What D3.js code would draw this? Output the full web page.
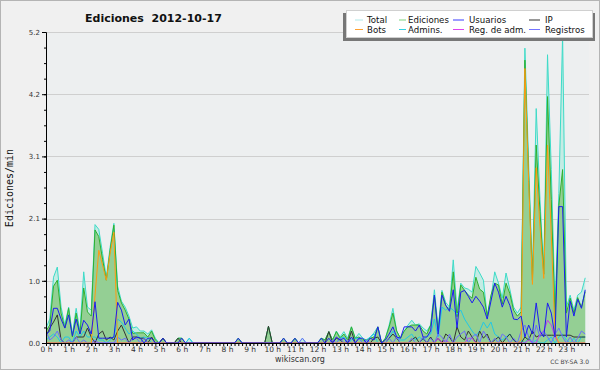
<!DOCTYPE html>
<html>
<head>
<meta charset="utf-8">
<script src="https://cdn.jsdelivr.net/npm/d3@7"></script>
<style>
	html, body { margin: 0; padding: 0; background: #f0f0f0; }
	svg { display: block; font-family: "DejaVu Sans", sans-serif; }
</style>
</head>
<body>
<svg id="chart"></svg>
<script>
// valores cada 10 minutos (144 puntos = 24 h), ediciones/min
var total = [
	0.25,0.4,1.1,1.27,0.6,0.3,  0.6,0.15,0.58,0.2,1.19,0.6,
	0.55,1.98,1.9,1.5,1.1,1.6,  2.0,0.95,0.7,0.6,0.45,0.25,
	0.27,0.2,0.2,0.15,0.22,0.08,  0,0.08,0,0,0,0.08,
	0.08,0,0.08,0,0,0,  0,0,0,0,0,0,
	0,0,0,0.08,0,0,  0,0,0,0,0,0.28,
	0,0,0,0.08,0,0,  0.08,0,0.08,0,0,0,
	0,0.08,0.05,0.19,0.05,0.2,  0.1,0.19,0.08,0.27,0.08,0.16,
	0.08,0.05,0.1,0.17,0.27,0,  0.08,0.3,0.58,0.2,0.08,0.2,
	0.3,0.38,0.3,0.32,0.25,0.2,  0.3,0.89,0.25,0.88,0.68,0.6,
	1.39,0.55,1.0,0.92,0.9,0.85,  1.28,1.17,1.05,0.45,0.75,1.19,
	1.0,0.75,1.17,0.9,0.6,0.5,  0.6,4.93,3.0,1.15,3.92,2.4,
	1.2,4.82,2.9,0.6,2.5,5.15,  0.6,0.8,0.55,0.8,0.85,1.09
];
var ediciones = [
	0.2,0.3,0.95,1.05,0.5,0.25,  0.58,0.1,0.5,0.15,0.92,0.52,
	0.45,1.89,1.78,1.4,1.05,1.55,  1.97,0.88,0.67,0.55,0.4,0.16,
	0.17,0.17,0.17,0.1,0.2,0.05,  0,0.08,0,0,0,0.08,
	0.08,0,0,0,0,0,  0,0,0,0,0,0,
	0,0,0,0.08,0,0,  0,0,0,0,0,0.28,
	0,0,0,0.08,0,0,  0.08,0,0,0,0,0,
	0,0.08,0.05,0.19,0.05,0.19,  0.08,0.15,0.05,0.27,0.08,0.1,
	0.05,0.05,0.08,0.1,0.27,0,  0.08,0.27,0.5,0.2,0.08,0.2,
	0.27,0.3,0.3,0.3,0.2,0.15,  0.3,0.8,0.2,0.85,0.63,0.55,
	1.19,0.44,0.97,0.88,0.8,0.75,  1.1,0.9,0.85,0.45,0.8,1.0,
	0.97,0.65,1.0,0.83,0.55,0.45,  0.52,4.73,2.8,1.05,3.31,2.2,
	1.15,4.12,2.4,0.4,2.3,2.9,  0.5,0.75,0.5,0.76,0.6,0.86
];
var usuarios = [
	0.15,0.2,0.58,0.58,0.4,0.25,  0.47,0.12,0.4,0.15,0.38,0.3,
	0.15,0.69,0.08,0.08,0.08,0.08,  0.1,0.68,0.55,0.3,0.4,0.05,
	0.1,0.08,0,0.08,0.08,0,  0,0.08,0,0,0,0,
	0.08,0,0,0,0,0,  0,0,0,0,0,0,
	0,0,0,0.08,0,0,  0,0,0,0,0,0,
	0,0,0,0.08,0,0,  0.08,0,0,0,0,0,
	0,0.08,0,0.08,0,0.1,  0.05,0.08,0,0.1,0,0.08,
	0.08,0,0.08,0.05,0.27,0,  0.05,0.15,0.27,0.1,0.08,0.27,
	0.27,0.27,0.2,0.3,0.1,0.1,  0.2,0.8,0.15,0.8,0.63,0.53,
	0.89,0.25,0.85,0.88,0.78,0.67,  0.78,0.7,0.6,0.4,0.7,1.0,
	0.85,0.6,0.78,0.63,0.4,0.39,  0.45,0.1,0.3,0.15,0.67,0.2,
	0.1,0.67,0.5,0.1,2.28,2.28,  0.1,0.7,0.45,0.73,0.58,0.89
];
var ip = [
	0.1,0.25,0.35,0.47,0.05,0,  0,0,0.1,0.1,0.1,0.25,
	0.1,0,0.15,0.2,0.05,0.1,  0.05,0.2,0.3,0.15,0,0.1,
	0.1,0.08,0.08,0,0.1,0,  0,0.08,0,0,0,0.08,
	0,0,0,0,0,0,  0,0,0,0,0,0,
	0,0,0,0,0,0,  0,0,0,0,0,0.28,
	0,0,0,0,0,0,  0,0,0,0,0,0,
	0,0,0,0.19,0,0.08,  0.05,0,0,0.2,0,0,
	0,0,0,0.08,0.1,0,  0,0.08,0.15,0.08,0,0,
	0,0.05,0.1,0,0.08,0,  0.1,0,0.08,0,0.15,0.1,
	0,0.27,0.1,0.05,0.2,0.1,  0,0.2,0.08,0.15,0,0.05,
	0.1,0,0.08,0.15,0.05,0,  0,0.1,0.05,0.2,0.1,0.13,
	0.13,0.13,0.13,0.13,0.13,0.13,  0.13,0.13,0.1,0.1,0.1,0.1
];
var bots = [
	0,0,0,0,0,0,  0,0,0,0,0,0,
	0,0.8,1.55,1.3,1.05,1.5,  1.85,0,0,0,0,0,
	0,0,0,0,0,0,  0,0,0,0,0,0,
	0,0,0,0,0,0,  0,0,0,0,0,0,
	0,0,0,0,0,0,  0,0,0,0,0,0,
	0,0,0,0,0,0,  0,0,0,0,0,0,
	0,0,0,0,0,0,  0,0,0,0,0,0,
	0,0,0,0,0,0,  0,0,0,0,0,0,
	0,0,0,0,0,0,  0,0,0,0,0,0,
	0,0,0,0,0,0,  0,0,0,0,0,0,
	0,0,0,0,0,0,  0.05,4.59,2.7,0.98,2.93,1.95,
	1.08,3.31,1.8,0.15,0,0,  0,0,0,0,0,0
];
var admins = [
	0.05,0.1,0.15,0.1,0,0.1,  0.1,0,0.2,0.1,0.2,0.1,
	0.1,0.1,0.05,0.05,0,0.05,  0.1,0.4,0.35,0.25,0.15,0.2,
	0.15,0.08,0.1,0.08,0,0,  0,0,0,0,0,0,
	0,0,0.08,0,0,0,  0,0,0,0,0,0,
	0,0,0,0,0,0,  0,0,0,0,0,0,
	0,0,0,0,0,0,  0,0,0,0,0,0,
	0,0,0,0,0,0,  0.08,0.1,0,0.05,0.08,0.08,
	0,0.05,0.1,0.15,0,0,  0,0.08,0.2,0.1,0.05,0.05,
	0.1,0.15,0.05,0.1,0.05,0.1,  0.15,0.4,0.1,0.6,0.55,0.6,
	0.55,0.48,0.55,0.4,0.3,0.2,  0.12,0.2,0.35,0.25,0.35,0.15,
	0.1,0.05,0.1,0.15,0.05,0,  0.05,0,0.08,0,0.05,0,
	0,0.05,0.1,0,0.1,0.15,  0.05,0,0.08,0,0.1,0.1
];
var regAdm = [
	0,0,0,0,0,0,  0,0,0,0,0,0,
	0,0,0,0,0,0,  0,0,0,0,0,0,
	0,0,0,0,0,0,  0,0,0,0,0,0,
	0,0,0,0,0,0,  0,0,0,0,0,0,
	0,0,0,0,0,0,  0,0,0,0,0,0,
	0,0,0,0,0,0,  0,0,0,0,0,0,
	0,0,0,0,0,0,  0,0,0,0,0,0,
	0,0,0,0,0,0,  0,0,0,0,0,0,
	0,0,0,0,0,0,  0,0,0.08,0,0.05,0,
	0,0,0,0,0.08,0.08,  0,0,0,0,0,0,
	0,0,0,0,0,0,  0,0,0.05,0,0,0.15,
	0.2,0.38,0.3,0.1,0,0,  0,0,0,0,0,0
];
var registros = [
	0.2,0.05,0.1,0.2,0.05,0,  0.05,0,0.1,0,0.05,0,
	0,0.05,0,0,0,0,  0,0.1,0.05,0.08,0,0.08,
	0.08,0,0.08,0,0,0,  0,0,0,0,0,0,
	0,0,0,0,0,0,  0,0,0,0,0,0,
	0,0,0,0,0,0,  0,0,0,0,0,0,
	0,0,0,0,0,0,  0,0,0.08,0,0,0,
	0,0,0,0,0.05,0,  0.08,0,0.05,0,0,0.08,
	0,0.05,0,0,0,0,  0,0.08,0,0.1,0,0,
	0,0.08,0,0,0.1,0,  0.08,0,0.15,0.1,0,0.15,
	0,0.1,0.15,0.2,0,0.1,  0.15,0,0.2,0.1,0,0.08,
	0,0.15,0.1,0,0.08,0,  0.2,0.3,0.1,0,0.3,0.1,
	0.2,0.1,0,0.15,0.25,0.1,  0,0.1,0,0.08,0.2,0.15
];
var hourLabels = ["0 h","1 h","2 h","3 h","4 h","5 h","6 h","7 h","8 h","9 h","10 h","11 h",
	"12 h","13 h","14 h","15 h","16 h","17 h","18 h","19 h","20 h","21 h","22 h","23 h"];
var yTicks = [0, 1.04, 2.08, 3.12, 4.16, 5.2];
var legendNames = ["Total", "Ediciones", "Usuarios", "IP", "Bots", "Admins.", "Reg. de adm.", "Registros"];

(function() {
	var width = 600, height = 370;
	var margin = {left: 46, right: 11, top: 32, bottom: 27};
	var svg = d3.select("#chart").attr("width", width).attr("height", height);

	svg.append("rect").attr("x", 0.5).attr("y", 0.5).attr("width", width - 1).attr("height", height - 1)
		.attr("fill", "#f0f0f0").attr("stroke", "#b4b4b4");

	var x = d3.scaleLinear().domain([0, 144]).range([margin.left, width - margin.right]);
	var y = d3.scaleLinear().domain([0, 5.2]).range([height - margin.bottom, margin.top]);

	svg.append("rect").attr("x", x(0)).attr("y", y(5.2))
		.attr("width", x(144) - x(0)).attr("height", y(0) - y(5.2)).attr("fill", "#edeff0");

	// grid
	svg.append("g").selectAll("line").data(yTicks.slice(1)).join("line")
		.attr("x1", x(0)).attr("x2", x(144))
		.attr("y1", function(d) { return Math.round(y(d)) + 0.5; })
		.attr("y2", function(d) { return Math.round(y(d)) + 0.5; })
		.attr("stroke", "#cfcfcf");

	svg.append("defs").append("clipPath").attr("id", "clip").append("rect")
		.attr("x", x(0)).attr("y", y(5.2) - 2).attr("width", x(144) - x(0)).attr("height", y(0) - y(5.2) + 2);
	var plot = svg.append("g").attr("clip-path", "url(#clip)");

	var line = d3.line().x(function(d, i) { return x(i); }).y(function(d) { return y(d); });
	var area = d3.area().x(function(d, i) { return x(i); }).y0(y(0)).y1(function(d) { return y(d); });

	plot.append("path").datum(total).attr("d", area).attr("fill", "#c4ece4");
	plot.append("path").datum(ediciones).attr("d", area).attr("fill", "#94cf94");

	var series = [
		{v: total, c: "#3ddbc8"},
		{v: ediciones, c: "#2eb02e"},
		{v: admins, c: "#22c8e6"},
		{v: ip, c: "#333333"},
		{v: regAdm, c: "#c93be8"},
		{v: registros, c: "#6c6cff"},
		{v: bots, c: "#ff9a10"},
		{v: usuarios, c: "#1c1cf0"}
	];
	series.forEach(function(s) {
		plot.append("path").datum(s.v).attr("d", line)
			.attr("fill", "none").attr("stroke", s.c).attr("stroke-width", 1)
			.attr("stroke-linejoin", "round");
	});

	// axes
	var yAxis = svg.append("g").attr("transform", "translate(" + x(0) + ",0)")
		.call(d3.axisLeft(y).tickValues(yTicks).tickSize(4).tickPadding(2).tickFormat(d3.format(".1f")));
	var yMinor = svg.append("g").attr("transform", "translate(" + x(0) + ",0)")
		.call(d3.axisLeft(y).tickValues(d3.range(21).map(function(k) { return k * 0.26; }))
			.tickSize(2).tickFormat(""));
	var xAxis = svg.append("g").attr("transform", "translate(0," + y(0) + ")")
		.call(d3.axisBottom(x).tickValues(d3.range(24).map(function(h) { return h * 6; }))
			.tickSize(3).tickPadding(1).tickFormat(function(d) { return hourLabels[d / 6]; }));
	var xMinor = svg.append("g").attr("transform", "translate(0," + y(0) + ")")
		.call(d3.axisBottom(x).tickValues(d3.range(145)).tickSize(3).tickFormat(""));

	[yAxis, yMinor, xAxis, xMinor].forEach(function(g) {
		g.selectAll(".domain").attr("stroke", "#000");
		g.selectAll(".tick line").attr("stroke", "#000");
		g.selectAll("text").attr("font-family", "DejaVu Sans").attr("font-size", 7).attr("fill", "#333");
	});
	xAxis.selectAll("text").attr("font-size", 7.5);
	yMinor.select(".domain").remove();
	xMinor.select(".domain").remove();

	// title and labels
	svg.append("text").attr("x", 85).attr("y", 21.5).attr("font-size", 11).attr("font-weight", "bold")
		.attr("fill", "#111").attr("xml:space", "preserve").text("Ediciones  2012-10-17");
	svg.append("text").attr("transform", "translate(13,188) rotate(-90)").attr("text-anchor", "middle")
		.attr("font-family", "DejaVu Sans Mono").attr("font-size", 10).attr("fill", "#111")
		.text("Ediciones/min");
	svg.append("text").attr("x", 300).attr("y", 362).attr("text-anchor", "middle")
		.attr("font-size", 8).attr("fill", "#333").text("wikiscan.org");
	svg.append("text").attr("x", 589).attr("y", 364).attr("text-anchor", "end")
		.attr("font-size", 6).attr("fill", "#444").text("CC BY-SA 3.0");

	// legend
	var leg = svg.append("g");
	leg.append("rect").attr("x", 343).attr("y", 13).attr("width", 252).attr("height", 28).attr("fill", "#777");
	leg.append("rect").attr("x", 346.5).attr("y", 10.5).attr("width", 246).attr("height", 27)
		.attr("fill", "#fff").attr("stroke", "#d0d0d0");
	var legColors = ["#b0e8e8", "#7ed47e", "#3a3aff", "#333333", "#ffa030", "#33d0e0", "#dd44ee", "#7474ff"];
	var colX = [355, 399, 453, 529];
	var colLen = [8, 7, 11, 11];
	var textX = [367, 408, 469, 545];
	legendNames.forEach(function(name, i) {
		var c = i % 4, r = Math.floor(i / 4);
		var ly = 20 + r * 9.5;
		leg.append("line").attr("x1", colX[c]).attr("x2", colX[c] + colLen[c])
			.attr("y1", ly).attr("y2", ly).attr("stroke", legColors[i]).attr("stroke-width", 1);
		leg.append("text").attr("x", textX[c]).attr("y", ly + 3.3)
			.attr("font-size", 8.6).attr("fill", "#111").text(name);
	});
})();
</script>
</body>
</html>
